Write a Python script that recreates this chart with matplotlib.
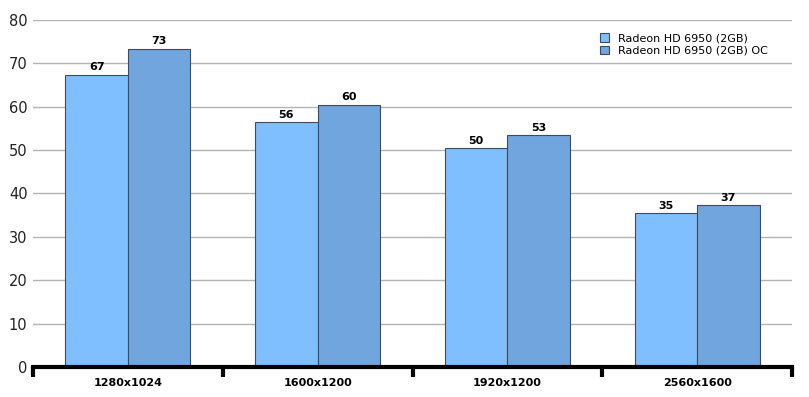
import numpy as np
import matplotlib.pyplot as plt

resolutions = ['1280x1024', '1600x1200', '1920x1200', '2560x1600']
hd6950 = [67.4, 56.4, 50.4, 35.4]
hd6950_oc = [73.3, 60.4, 53.4, 37.3]
series_names = ['Radeon HD 6950 (2GB)', 'Radeon HD 6950 (2GB) OC']

def main():
    fig = plt.figure(figsize=(8.09, 3.97), dpi=100)
    ax = fig.add_axes([33/809, 30/397, 759/809, 347/397])

    xs = np.arange(len(resolutions))
    w = 0.33
    b1 = ax.bar(xs - w/2, hd6950, w, color='#80bfff', edgecolor='#404a5a',
                linewidth=0.8, label=series_names[0], zorder=3)
    b2 = ax.bar(xs + w/2, hd6950_oc, w, color='#70a6dd', edgecolor='#404a5a',
                linewidth=0.8, label=series_names[1], zorder=3)
    for bars in (b1, b2):
        for r in bars:
            v = r.get_height()
            ax.text(r.get_x() + r.get_width()/2, v + 0.6, str(int(v)),
                    ha='center', va='bottom', fontsize=8, fontweight='bold')

    ax.set_xlim(-0.5, len(resolutions) - 0.5)
    ax.set_ylim(0, 80)
    ax.set_yticks(np.arange(0, 81, 10))
    ax.yaxis.grid(True, color='#b4b4b4', linewidth=1, zorder=0)
    ax.tick_params(axis='y', length=0, labelsize=10.5, pad=4, colors='#222222')

    # category boundaries for bottom ticks
    ax.set_xticks(np.arange(-0.5, len(resolutions)), minor=False)
    ax.set_xticklabels([])
    ax.set_xticks(xs, minor=True)
    ax.set_xticklabels(resolutions, minor=True, fontsize=8, fontweight='bold')
    ax.tick_params(axis='x', which='major', length=7, width=3, direction='out')
    ax.tick_params(axis='x', which='minor', length=0, pad=8)

    for s in ['top', 'right', 'left']:
        ax.spines[s].set_visible(False)
    ax.spines['bottom'].set_linewidth(3)
    ax.spines['bottom'].set_zorder(4)

    ax.legend(loc='upper left', bbox_to_anchor=(0.735, 0.987), frameon=False,
              fontsize=8, handlelength=0.8, handleheight=0.8,
              handletextpad=0.8, borderpad=0.3, labelspacing=0.2)

    fig.savefig('out.png', dpi=100)

if __name__ == '__main__':
    main()
